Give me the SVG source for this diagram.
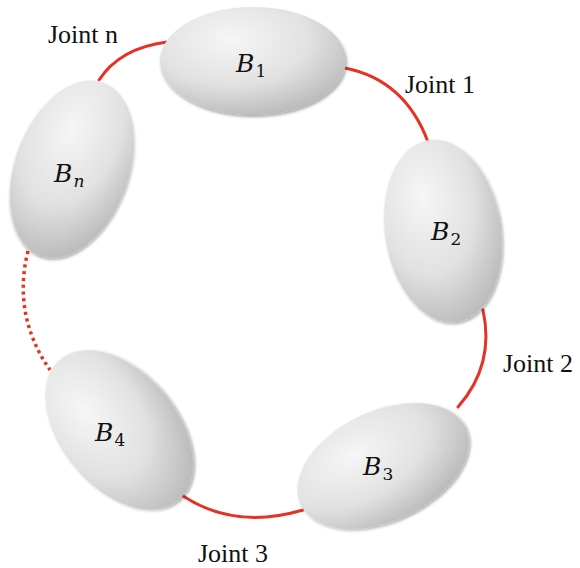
<svg xmlns="http://www.w3.org/2000/svg" width="580" height="568" viewBox="0 0 580 568">
<style>
.j{fill:none;stroke:#e63223;stroke-width:3;stroke-linecap:round}
.d{fill:none;stroke:#e63223;stroke-width:3.5;stroke-dasharray:3.2 3.6}
.body{fill:url(#g);filter:url(#sh)}
.lb{font-family:"DejaVu Serif","Liberation Serif",serif;font-style:italic;font-size:25px;fill:#111}
.sub{font-family:"DejaVu Serif","Liberation Serif",serif;font-style:normal;font-size:17px}
.sub-i{font-family:"DejaVu Serif","Liberation Serif",serif;font-style:italic;font-size:17px}
.jt{font-family:"Liberation Serif","Times New Roman","DejaVu Serif",serif;font-size:26px;fill:#111}
</style>
<defs>
<radialGradient id="g" cx="0.38" cy="0.3" r="0.85">
<stop offset="0" stop-color="#f6f6f6"/>
<stop offset="0.5" stop-color="#e1e1e1"/>
<stop offset="1" stop-color="#acacac"/>
</radialGradient>
<filter id="sh" x="-20%" y="-20%" width="140%" height="140%">
<feDropShadow dx="1" dy="2" stdDeviation="1.5" flood-color="#000" flood-opacity="0.35"/>
</filter>
</defs>
<g id="connectors">
<path class="j" d="M99,80 Q120,48 167,42"/>
<path class="j" d="M345,68 Q405,80 428,142"/>
<path class="j" d="M483,310 Q495,365 458,407"/>
<path class="j" d="M183,496 Q235,530 303,510"/>
<path class="d" d="M28,251 Q12,315 50,370"/>
</g>
<g id="B1">
<ellipse class="body" cx="253" cy="61" rx="93" ry="54"/>
<text class="lb" x="236" y="72">B<tspan class="sub" dx="1" dy="5">1</tspan></text>
</g>
<g id="B2">
<ellipse class="body" cx="443" cy="231" rx="58" ry="92" transform="rotate(-9 443 231)"/>
<text class="lb" x="431" y="240">B<tspan class="sub" dx="1" dy="5">2</tspan></text>
</g>
<g id="B3">
<ellipse class="body" cx="383" cy="466" rx="91" ry="55" transform="rotate(-25 383 466)"/>
<text class="lb" x="363" y="475">B<tspan class="sub" dx="1" dy="5">3</tspan></text>
</g>
<g id="B4">
<ellipse class="body" cx="119" cy="430" rx="58" ry="92" transform="rotate(-40 119 430)"/>
<text class="lb" x="95" y="441">B<tspan class="sub" dx="1" dy="5">4</tspan></text>
</g>
<g id="Bn">
<ellipse class="body" cx="72" cy="169" rx="57" ry="92" transform="rotate(20 72 169)"/>
<text class="lb" x="54" y="182">B<tspan class="sub-i" dx="1" dy="5">n</tspan></text>
</g>
<g id="labels">
<text class="jt" x="48" y="43">Joint n</text>
<text class="jt" x="405" y="93">Joint 1</text>
<text class="jt" x="503" y="372">Joint 2</text>
<text class="jt" x="198" y="562">Joint 3</text>
</g>
</svg>
